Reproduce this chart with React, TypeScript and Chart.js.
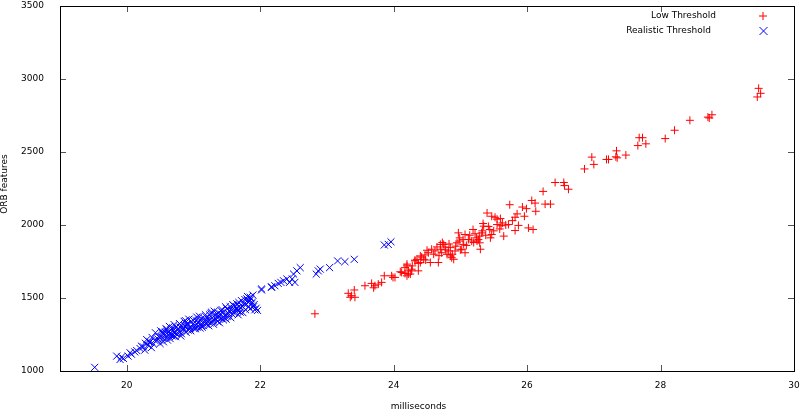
import React, { useEffect, useRef } from "react";
import { Chart, registerables } from "chart.js";

Chart.register(...registerables);

const xTicks = [20, 22, 24, 26, 28, 30];
const yTicks = [1000, 1500, 2000, 2500, 3000, 3500];
const seriesNames = ["Low Threshold", "Realistic Threshold"];
const xTitle = "milliseconds";
const yTitle = "ORB features";

const lowX = [
  29.47, 29.5, 29.45, 28.77, 28.71, 28.73, 28.44, 28.21, 28.07, 27.68, 27.73, 27.66, 27.78, 27.48, 27.34,
  27.33, 27.35, 27.22, 27.19, 26.97, 27.0, 26.86, 26.42, 26.55, 26.56, 26.62, 26.24,
  26.07, 26.12, 26.27, 26.35, 26.13, 25.74, 25.93, 25.99, 25.85, 25.96, 25.82, 25.4, 25.52, 25.47, 25.6,
  25.34, 25.55, 25.63, 25.61, 25.72, 25.87, 25.82, 26.02, 26.09, 25.59, 25.44, 25.47, 25.65, 25.19, 25.35,
  25.32, 25.29, 25.24, 24.97, 25.07, 24.99, 25.12, 25.17, 25.25, 25.29, 25.45, 25.3, 25.05, 24.95, 25.02,
  25.07, 24.92, 24.85, 24.75, 24.7, 24.77, 24.7, 24.72, 24.82, 24.85, 24.9, 24.87, 24.8, 24.62, 24.57,
  24.52, 24.5, 24.47, 24.4, 24.45, 24.35, 24.32, 24.4, 24.55, 24.67, 24.2, 24.17, 24.22, 24.27, 24.37,
  24.25, 24.2, 24.12,
  22.82, 23.32, 23.37, 23.41, 23.42, 23.35, 23.57, 23.67, 23.72, 23.7, 23.77, 23.82, 23.86, 23.97, 24.02,
  23.99, 24.1, 24.2, 24.17, 24.22, 24.27, 24.32, 24.37,
  24.6, 24.65, 24.68, 24.73, 24.78, 24.83, 24.88, 24.93, 24.98, 25.0, 25.04, 25.09, 25.14, 25.2, 25.22,
  25.27, 25.33, 25.38, 25.42, 25.5, 25.55, 25.68, 25.78, 24.42, 24.48, 24.28,
];
const lowY = [
  2936, 2902, 2877, 2755, 2739, 2733, 2717, 2649, 2592, 2598, 2598, 2544, 2556, 2479, 2508,
  2467, 2460, 2449, 2449, 2465, 2415, 2384, 2291, 2291, 2270, 2245, 2230,
  2168, 2150, 2143, 2143, 2094, 2139, 2123, 2112, 2076, 2060, 2053, 2082, 2053, 2060, 2044,
  2010, 2003, 2014, 1995, 2003, 1997, 1962, 1980, 1969, 1973, 1969, 1935, 1924, 1969, 1992,
  1946, 1924, 1912, 1946, 1935, 1912, 1901, 1890, 1890, 1878, 1912, 1834, 1867, 1878, 1834,
  1810, 1822, 1845, 1867, 1867, 1849, 1834, 1810, 1822, 1788, 1765, 1776, 1799, 1822, 1834,
  1810, 1827, 1795, 1788, 1765, 1765, 1754, 1743, 1743, 1743, 1732, 1708, 1686, 1697, 1686,
  1664, 1652, 1675,
  1392, 1532, 1516, 1555, 1505, 1505, 1584, 1600, 1584, 1570, 1595, 1607, 1652, 1652, 1641,
  1641, 1680, 1720, 1668, 1664, 1686, 1759, 1737,
  1800, 1850, 1790, 1880, 1830, 1870, 1800, 1855, 1890, 1830, 1900, 1860, 1930, 1880, 1940,
  1900, 1960, 1930, 1990, 1960, 2040, 2000, 2030, 1780, 1760, 1720,
];

const realX = [
  19.52, 19.85, 19.9, 19.95, 19.92, 20.02, 20.07, 20.05, 20.12, 20.2, 20.25, 20.27, 20.32, 20.35, 20.37,
  20.45, 20.5, 20.52, 20.57, 20.55, 20.62, 20.65, 20.7, 20.67, 20.75, 20.77, 20.8, 20.85, 20.9, 20.95,
  21.0, 21.05, 21.07, 21.12, 21.17, 21.22, 21.27, 21.3, 21.35, 21.4, 21.45, 21.5, 21.52, 21.57, 21.6,
  21.65, 21.7, 21.72, 21.8, 21.85, 21.82, 21.87, 21.85, 21.92, 22.02, 22.17,
  20.4, 20.42, 20.48, 20.55, 20.58, 20.6, 20.63, 20.66, 20.68, 20.72, 20.74, 20.78, 20.82, 20.85, 20.87,
  20.92, 20.95, 20.97, 21.02, 21.05, 21.08, 21.1, 21.14, 21.16, 21.19, 21.21, 21.25, 21.28, 21.3, 21.33,
  21.36, 21.38, 21.42, 21.44, 21.47, 21.49, 21.52, 21.55, 21.58, 21.62, 21.65, 21.67, 21.73, 21.76, 21.78,
  21.84, 21.88, 21.9, 20.3, 20.6, 20.88, 21.13, 21.41, 21.69, 20.53, 20.71, 21.03, 21.24,
  22.02, 22.17, 22.22, 22.27, 22.31, 22.35, 22.4, 22.44, 22.48, 22.5, 22.55, 22.6, 22.52, 22.84, 22.9,
  22.87, 23.04, 23.16, 23.27, 23.41, 23.86, 23.92, 23.96,
  20.43, 20.47, 20.51, 20.54, 20.59, 20.61, 20.64, 20.69, 20.71, 20.73, 20.76, 20.79, 20.81, 20.83, 20.86,
  20.89, 20.91, 20.93, 20.96, 20.99, 21.01, 21.04, 21.06, 21.09, 21.11, 21.15, 21.18, 21.2, 21.23, 21.26,
  21.29, 21.31, 21.34, 21.37, 21.39, 21.43, 21.46, 21.48, 21.51, 21.54, 21.56, 21.59, 21.61, 21.63, 21.66,
  21.68, 21.71, 21.74, 21.77, 21.79, 21.81, 21.83, 21.86, 21.89, 21.91, 21.94, 21.96, 20.38, 20.33, 20.28,
  20.22, 20.15,
];
const realY = [
  1025, 1102, 1079, 1086, 1095, 1102, 1115, 1125, 1131, 1154, 1165, 1143, 1177, 1199, 1160,
  1211, 1188, 1233, 1245, 1225, 1267, 1222, 1279, 1250, 1256, 1290, 1301, 1282, 1313, 1290,
  1324, 1369, 1330, 1313, 1346, 1358, 1403, 1320, 1369, 1392, 1350, 1426, 1395, 1414, 1448,
  1430, 1403, 1482, 1494, 1505, 1471, 1460, 1426, 1419, 1562, 1577,
  1185, 1210, 1235, 1200, 1265, 1230, 1250, 1280, 1240, 1262, 1300, 1270, 1255, 1290, 1310,
  1280, 1300, 1335, 1305, 1320, 1340, 1295, 1330, 1360, 1320, 1340, 1330, 1365, 1350, 1385,
  1340, 1370, 1360, 1400, 1380, 1355, 1395, 1440, 1390, 1420, 1460, 1385, 1445, 1460, 1420,
  1480, 1470, 1440, 1215, 1285, 1345, 1300, 1415, 1440, 1270, 1240, 1290, 1385,
  1555, 1573, 1584, 1600, 1607, 1618, 1630, 1607, 1630, 1664, 1686, 1708, 1607, 1664, 1698,
  1686, 1708, 1754, 1749, 1765, 1863, 1867, 1885,
  1262, 1218, 1275, 1255, 1290, 1212, 1305, 1295, 1318, 1235, 1280, 1325, 1240, 1305, 1340,
  1265, 1325, 1355, 1275, 1350, 1290, 1345, 1300, 1375, 1355, 1310, 1385, 1365, 1310, 1395,
  1340, 1410, 1355, 1395, 1330, 1420, 1365, 1440, 1375, 1415, 1365, 1455, 1400, 1440, 1415,
  1470, 1430, 1400, 1490, 1455, 1510, 1440, 1495, 1520, 1455, 1430, 1415, 1230, 1200, 1190,
  1170, 1140,
];

const RED = "#ff0000";
const BLUE = "#0000ff";
const FONT = "'DejaVu Sans', sans-serif";

export default function App() {
  const ref = useRef<HTMLCanvasElement | null>(null);

  useEffect(() => {
    document.body.style.margin = "0";
    const canvas = ref.current;
    if (!canvas) return;

    const framePlugin = {
      id: "gnuframe",
      beforeDatasetsDraw(chart: any) {
        const { ctx, chartArea } = chart;
        const { left, right, top, bottom } = chartArea;
        const xs = chart.scales.x;
        const ys = chart.scales.y;
        ctx.save();
        ctx.strokeStyle = "#555";
        ctx.lineWidth = 1;
        ctx.beginPath();
        xTicks.forEach((v) => {
          const px = Math.round(xs.getPixelForValue(v)) + 0.5;
          ctx.moveTo(px, bottom);
          ctx.lineTo(px, bottom - 6);
          ctx.moveTo(px, top);
          ctx.lineTo(px, top + 6);
        });
        yTicks.forEach((v) => {
          const py = Math.round(ys.getPixelForValue(v)) + 0.5;
          ctx.moveTo(left, py);
          ctx.lineTo(left + 6, py);
          ctx.moveTo(right, py);
          ctx.lineTo(right - 6, py);
        });
        ctx.stroke();
        ctx.strokeStyle = "#000";
        ctx.lineWidth = 1;
        ctx.strokeRect(Math.round(left) + 0.5, Math.round(top) + 0.5, Math.round(right - left), Math.round(bottom - top));
        ctx.fillStyle = "#000";
        ctx.font = `9px ${FONT}`;
        ctx.textAlign = "center";
        ctx.textBaseline = "middle";
        ctx.fillText(xTitle, 418.5, 407);
        ctx.save();
        ctx.translate(5, 184);
        ctx.rotate(-Math.PI / 2);
        ctx.fillText(yTitle, 0, 0);
        ctx.restore();
        ctx.textAlign = "right";
        ctx.fillText(seriesNames[0], 716, 16);
        ctx.fillText(seriesNames[1], 711, 31);
        ctx.lineWidth = 1;
        ctx.strokeStyle = RED;
        ctx.beginPath();
        ctx.moveTo(759, 16);
        ctx.lineTo(767, 16);
        ctx.moveTo(763, 12);
        ctx.lineTo(763, 20);
        ctx.stroke();
        ctx.strokeStyle = BLUE;
        ctx.beginPath();
        ctx.moveTo(759.5, 27);
        ctx.lineTo(767.5, 35);
        ctx.moveTo(767.5, 27);
        ctx.lineTo(759.5, 35);
        ctx.stroke();
        ctx.restore();
      },
    };

    const chart = new Chart(canvas, {
      type: "scatter",
      data: {
        datasets: [
          {
            label: seriesNames[0],
            data: lowX.map((x, i) => ({ x, y: lowY[i] })),
            pointStyle: "cross",
            radius: 4,
            borderColor: RED,
            backgroundColor: RED,
            borderWidth: 1,
          },
          {
            label: seriesNames[1],
            data: realX.map((x, i) => ({ x, y: realY[i] })),
            pointStyle: "crossRot",
            radius: 5,
            borderColor: BLUE,
            backgroundColor: BLUE,
            borderWidth: 1,
          },
        ],
      },
      options: {
        responsive: false,
        animation: false,
        maintainAspectRatio: false,
        layout: { padding: { left: 0, right: 6, top: 3, bottom: 0 } },
        plugins: { legend: { display: false }, tooltip: { enabled: false } },
        scales: {
          x: {
            type: "linear",
            min: 19,
            max: 30,
            grid: { display: false, drawTicks: false },
            border: { display: false },
            ticks: {
              padding: 9,
              color: "#000",
              font: { family: FONT, size: 9 },
              callback: (v: any) => String(v),
            },
            afterBuildTicks: (s: any) => {
              s.ticks = xTicks.map((v) => ({ value: v }));
            },
            afterFit: (s: any) => {
              s.height = 40;
              s.paddingLeft = 0;
              s.paddingRight = 0;
            },
          },
          y: {
            type: "linear",
            min: 1000,
            max: 3500,
            grid: { display: false, drawTicks: false },
            border: { display: false },
            ticks: {
              padding: 16,
              color: "#000",
              font: { family: FONT, size: 9 },
              callback: (v: any) => String(v),
            },
            afterBuildTicks: (s: any) => {
              s.ticks = yTicks.map((v) => ({ value: v }));
            },
            afterFit: (s: any) => {
              s.width = 60;
              s.paddingTop = 0;
              s.paddingBottom = 0;
            },
          },
        },
      },
      plugins: [framePlugin],
    });

    return () => chart.destroy();
  }, []);

  return (
    <div style={{ width: 800, height: 411 }}>
      <canvas ref={ref} width={800} height={411} style={{ display: "block" }} />
    </div>
  );
}
